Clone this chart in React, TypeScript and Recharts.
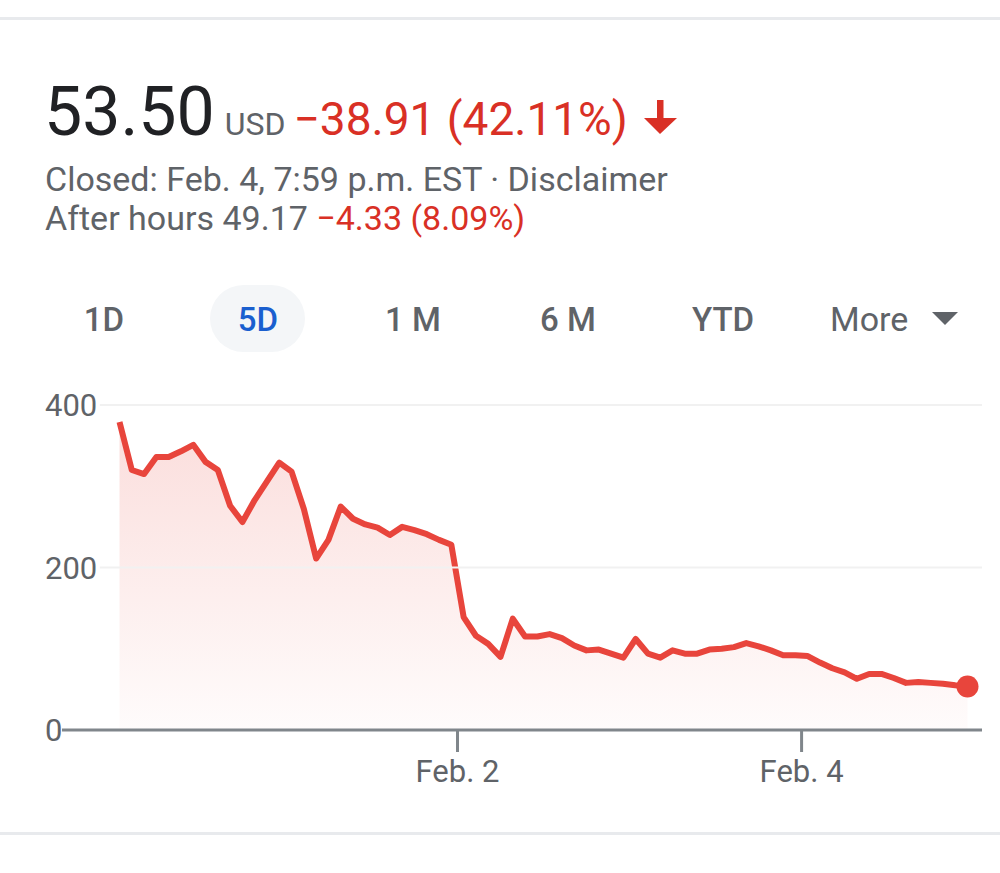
import { ComposedChart, Area, XAxis, YAxis, ReferenceLine, ReferenceDot } from 'recharts';

// 30-minute closes, 14 per trading day
const jan29 = [379, 320, 315, 336, 336, 343, 351, 330, 320, 276, 256, 283, 306, 329];
const feb1 = [318, 272, 211, 234, 275, 260, 253, 249, 240, 250, 246, 241, 234, 228];
const feb2 = [139, 116, 106, 90, 137, 115, 115, 118, 113, 104, 98, 99, 94, 89];
const feb3 = [112, 94, 89, 98, 94, 94, 99, 100, 102, 107, 103, 98, 92, 92];
const feb4 = [91, 83, 76, 71, 63, 69, 69, 64, 58, 59, 58, 57, 55, 53.5];

const yTicks = [0, 200, 400];
const xTicks = [27.5, 55.5];
const xTickLabels = ['Feb. 2', 'Feb. 4'];
const tabs = ['1D', '5D', '1 M', '6 M', 'YTD'];
const tabCenters = [104, 258, 413, 568, 723];

const prices = [...jan29, ...feb1, ...feb2, ...feb3, ...feb4];
const data = prices.map((price, i) => ({ i, price }));
const last = data[data.length - 1];

const RED = '#d93025';
const LINE = '#e8453c';
const GRAY = '#5f6368';
const FONT = 'Roboto, "Noto Sans", sans-serif';

function YTick(props: any) {
  const { y, payload } = props;
  return (
    <text x={45} y={y} dy={11} textAnchor="start" fontSize={31} fill={GRAY} fontFamily={FONT}>
      {payload.value}
    </text>
  );
}

function XTick(props: any) {
  const { x, payload } = props;
  const idx = xTicks.indexOf(payload.value);
  return (
    <text x={x} y={782} textAnchor="middle" fontSize={31} fill={GRAY} fontFamily={FONT}>
      {xTickLabels[idx]}
    </text>
  );
}

export default function App() {
  return (
    <div style={{ position: 'absolute', left: 0, top: 0, width: 1000, height: 873, background: '#fff', fontFamily: FONT, overflow: 'hidden' }}>
      <div style={{ position: 'absolute', left: 0, top: 17, width: 1000, height: 3, background: '#e8eaed' }} />
      <div style={{ position: 'absolute', left: 0, top: 832, width: 1000, height: 3, background: '#e8eaed' }} />

      <div style={{ position: 'absolute', left: 44, top: 78, lineHeight: 1, whiteSpace: 'nowrap' }}>
        <span style={{ fontSize: 68, color: '#202124' }}>53.50</span>
        <span style={{ fontSize: 32, color: GRAY, marginLeft: 10 }}>USD</span>
        <span style={{ fontSize: 46, color: RED, marginLeft: 8 }}>−38.91 (42.11%)</span>
      </div>
      <svg style={{ position: 'absolute', left: 0, top: 0 }} width={1000} height={200}>
        <polygon points="657,100 663.5,100 663.5,118 677,118 660,134 644,118 657,118" fill={RED} />
      </svg>
      <div style={{ position: 'absolute', left: 45, top: 162, fontSize: 34, lineHeight: 1, color: GRAY, whiteSpace: 'nowrap' }}>
        Closed: Feb. 4, 7:59 p.m. EST · Disclaimer
      </div>
      <div style={{ position: 'absolute', left: 45, top: 201, fontSize: 34, lineHeight: 1, color: GRAY, whiteSpace: 'nowrap' }}>
        After hours 49.17 <span style={{ color: RED }}>−4.33 (8.09%)</span>
      </div>

      <div style={{ position: 'absolute', left: 210, top: 285, width: 95, height: 67, borderRadius: 34, background: '#f4f6f8' }} />
      {tabs.map((t, k) => (
        <div key={t} style={{ position: 'absolute', left: tabCenters[k], top: 319, transform: 'translate(-50%, -50%)', fontSize: 33, fontWeight: 500, lineHeight: 1, color: t === '5D' ? '#1a5fcf' : GRAY, whiteSpace: 'nowrap' }}>
          {t}
        </div>
      ))}
      <div style={{ position: 'absolute', left: 830, top: 319, transform: 'translateY(-50%)', fontSize: 34, lineHeight: 1, color: GRAY }}>More</div>
      <svg style={{ position: 'absolute', left: 930, top: 310 }} width={30} height={16}>
        <polygon points="2,2 28,2 15,15" fill={GRAY} />
      </svg>

      <div style={{ position: 'absolute', left: 0, top: 0 }}>
        <ComposedChart width={1000} height={873} data={data} margin={{ top: 405, right: 18, left: 0, bottom: 0 }}>
          <defs>
            <linearGradient id="fillRed" x1="0" y1="0" x2="0" y2="1">
              <stop offset="0%" stopColor={LINE} stopOpacity={0.3} />
              <stop offset="100%" stopColor={LINE} stopOpacity={0.03} />
            </linearGradient>
          </defs>
          <XAxis
            dataKey="i"
            type="number"
            domain={[-4.68, 70.18]}
            ticks={xTicks}
            allowDataOverflow
            height={143}
            tickSize={22}
            axisLine={{ stroke: '#80868b', strokeWidth: 3 }}
            tickLine={{ stroke: '#80868b', strokeWidth: 3 }}
            tick={<XTick />}
          />
          <YAxis
            width={62}
            domain={[0, 400]}
            ticks={yTicks}
            axisLine={false}
            tickLine={false}
            tick={<YTick />}
          />
          {yTicks.slice(1).map((v) => (
            <ReferenceLine key={v} segment={[{ x: -1.6, y: v }, { x: 70.18, y: v }]} stroke="#f1f1f1" strokeWidth={2} />
          ))}
          <Area
            type="linear"
            dataKey="price"
            stroke={LINE}
            strokeWidth={6}
            strokeLinejoin="round"
            fill="url(#fillRed)"
            isAnimationActive={false}
            dot={false}
            activeDot={false}
          />
          <ReferenceDot x={last.i} y={last.price} r={11} fill={LINE} stroke="none" />
        </ComposedChart>
      </div>
    </div>
  );
}
